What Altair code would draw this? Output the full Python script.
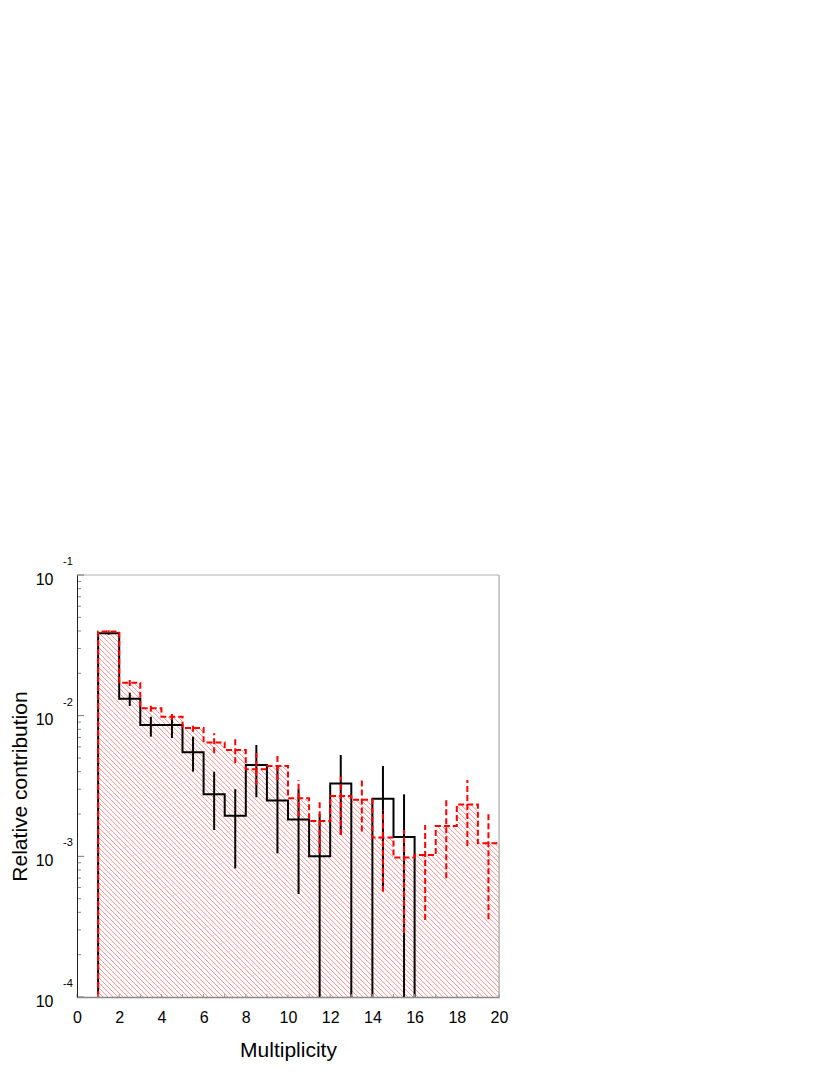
import altair as alt
import numpy as np
import pandas as pd

# ---------------- data ----------------
red_edges = list(range(1, 21))          # bin edges 1..20 (19 bins)
red_vals = [0.0397, 0.01716, 0.01128, 0.00983, 0.00818, 0.00645, 0.0057, 0.00416,
            0.00439, 0.00259, 0.00178, 0.00269, 0.00252, 0.00136, 0.00098, 0.00102,
            0.00164, 0.00234, 0.00124]
red_lo = [0.0389, 0.01625, 0.01067, 0.00931, 0.00769, 0.0054, 0.00458, 0.00321,
          0.00349, 0.00191, 0.00105, 0.00142, 0.0015, 0.00056, 0.000285, 0.000353,
          0.000698, 0.001185, 0.000357]
red_hi = [0.0405, 0.01814, 0.0119, 0.01044, 0.00868, 0.0075, 0.00679, 0.00543,
          0.0054, 0.00349, 0.00245, 0.00368, 0.00353, 0.00214, 0.00154, 0.00167,
          0.00259, 0.00349, 0.00208]

black_edges = list(range(1, 17))        # bin edges 1..16 (15 bins)
black_vals = [0.0385, 0.0132, 0.00858, 0.00858, 0.00549, 0.00276, 0.00194, 0.00446,
              0.00249, 0.00183, 0.0010, 0.0033, 0.0, 0.00257, 0.00137]
black_lo = [0.0376, 0.01171, 0.00709, 0.00694, 0.0040, 0.00154, 0.00082, 0.00263,
            0.00105, 0.00054, 0.0, 0.00142, None, 0.00058, 0.0]
black_hi = [0.0394, 0.01456, 0.00983, 0.00983, 0.00709, 0.0040, 0.0030, 0.00619,
            0.00434, 0.0030, 0.0020, 0.00525, None, 0.00439, 0.00276]

x_ticks = list(range(0, 21, 2))
x_minor = list(range(0, 21))
y_major = [1e-4, 1e-3, 1e-2, 1e-1]
y_minor = [m * 10.0 ** k for k in (-4, -3, -2) for m in range(2, 10)]
y_exponents = ["-1", "-2", "-3", "-4"]

Y_FLOOR, Y_TOP = 1e-4, 0.1
X_MIN, X_MAX = 0, 20
W = H = 422
FONT = "Liberation Sans"

# ---------------- tables ----------------
def floor(v):
    return v if (v is not None and v > Y_FLOOR) else Y_FLOOR

red_step = pd.DataFrame({
    "x": [red_edges[0]] + red_edges,
    "y": [Y_FLOOR] + red_vals + [red_vals[-1]],
})
red_step["i"] = range(len(red_step))

red_mask = pd.DataFrame({"x": red_edges[:-1], "x2": red_edges[1:], "y": red_vals, "yt": Y_TOP})

# black histogram split into segments wherever a bin is empty
rows = []
seg = 0
open_seg = False
for k, v in enumerate(black_vals):
    lo_e = black_edges[k]
    if v <= 0:
        if open_seg:
            rows.append((seg, lo_e, Y_FLOOR))
            seg += 1
            open_seg = False
        continue
    if not open_seg:
        rows.append((seg, lo_e, Y_FLOOR))
        open_seg = True
    rows.append((seg, lo_e, v))
if open_seg:
    rows.append((seg, black_edges[-1], Y_FLOOR))
black_step = pd.DataFrame(rows, columns=["seg", "x", "y"])
black_step["i"] = range(len(black_step))

red_err = pd.DataFrame({"x": [e + 0.5 for e in red_edges[:-1]], "lo": red_lo, "hi": red_hi})
black_err = pd.DataFrame({
    "x": [e + 0.5 for e in black_edges[:-1]],
    "lo": [floor(v) if v is not None else None for v in black_lo],
    "hi": black_hi,
}).dropna()

# hatch pattern lines (45 deg in pixel space): from (a, top) to (a+20, floor)
hatch_a = np.arange(-19.0, 20.0, 0.237)
hatch = pd.DataFrame({"a": hatch_a, "a2": hatch_a + 20.0, "yt": Y_TOP, "yb": Y_FLOOR})

frame = pd.DataFrame({"x": [X_MIN], "x1": [red_edges[0]], "x2": [X_MAX],
                      "yb": [Y_FLOOR], "yt": [Y_TOP]})
expo = pd.DataFrame({"y": y_major[::-1], "label": y_exponents})

xs = alt.Scale(domain=[X_MIN, X_MAX], nice=False, zero=False)
ys = alt.Scale(type="log", domain=[Y_FLOOR, Y_TOP], nice=False, clamp=True)

# ---------------- layers ----------------
hatch_layer = alt.Chart(hatch).mark_rule(clip=True, color="#ff3333", strokeWidth=1, opacity=0.55).encode(
    x=alt.X("a:Q", scale=xs, axis=None), x2="a2:Q",
    y=alt.Y("yt:Q", scale=ys, axis=None), y2="yb:Q")

mask_left = alt.Chart(frame).mark_rect(color="white").encode(
    x=alt.X("x:Q", scale=xs, axis=None), x2="x1:Q",
    y=alt.Y("yb:Q", scale=ys, axis=None), y2="yt:Q")

mask_top = alt.Chart(red_mask).mark_rect(color="white", stroke="white", strokeWidth=1).encode(
    x=alt.X("x:Q", scale=xs, axis=None), x2="x2:Q",
    y=alt.Y("y:Q", scale=ys, axis=None), y2="yt:Q")

black_line = alt.Chart(black_step).mark_line(color="black", strokeWidth=2, interpolate="step-after").encode(
    x=alt.X("x:Q", scale=xs, axis=None),
    y=alt.Y("y:Q", scale=ys, axis=None), detail="seg:N", order="i:Q")

black_bars = alt.Chart(black_err).mark_rule(color="black", strokeWidth=2).encode(
    x=alt.X("x:Q", scale=xs, axis=None),
    y=alt.Y("lo:Q", scale=ys, axis=None), y2="hi:Q")

red_line = alt.Chart(red_step).mark_line(color="#ff0000", strokeWidth=2, strokeDash=[6, 3],
                                         interpolate="step-after").encode(
    x=alt.X("x:Q", scale=xs, axis=None),
    y=alt.Y("y:Q", scale=ys, axis=None), order="i:Q")

red_bars = alt.Chart(red_err).mark_rule(color="#ff0000", strokeWidth=2, strokeDash=[6, 3]).encode(
    x=alt.X("x:Q", scale=xs, axis=None),
    y=alt.Y("lo:Q", scale=ys, axis=None), y2="hi:Q")

border_top = alt.Chart(frame).mark_rule(color="#b0b0b0", strokeWidth=1).encode(
    x=alt.X("x:Q", scale=xs, axis=None), x2="x2:Q",
    y=alt.Y("yt:Q", scale=ys, axis=None))
border_right = alt.Chart(frame).mark_rule(color="#a0a0a0", strokeWidth=1).encode(
    x=alt.X("x2:Q", scale=xs, axis=None),
    y=alt.Y("yb:Q", scale=ys, axis=None), y2="yt:Q")

# inward tick marks drawn as short rules
ytick_major = alt.Chart(pd.DataFrame({"y": y_major})).mark_rule(color="#777777", strokeWidth=1).encode(
    x=alt.value(0), x2=alt.value(7), y=alt.Y("y:Q", scale=ys, axis=None))
ytick_minor = alt.Chart(pd.DataFrame({"y": y_minor})).mark_rule(color="#888888", strokeWidth=1).encode(
    x=alt.value(0), x2=alt.value(4), y=alt.Y("y:Q", scale=ys, axis=None))
xtick = alt.Chart(pd.DataFrame({"x": x_minor})).mark_rule(color="#999999", strokeWidth=1).encode(
    x=alt.X("x:Q", scale=xs, axis=None), y=alt.value(H), y2=alt.value(H - 3))

expo_layer = alt.Chart(expo).mark_text(align="left", baseline="middle", fontSize=11, dy=-13,
                                       font=FONT, color="black").encode(
    x=alt.value(-14),
    y=alt.Y("y:Q", scale=ys, axis=None), text="label:N")

# main axes (labels, titles)
axis_main = alt.Chart(frame).mark_point(opacity=0).encode(
    x=alt.X("x:Q", scale=xs, axis=alt.Axis(
        orient="bottom", values=x_ticks, ticks=False, format="d", labelFontSize=16,
        labelPadding=12, labelFlush=False, labelColor="black", labelFont=FONT,
        domainColor="#888888", domainWidth=1.5, grid=False, zindex=2,
        title="Multiplicity", titleFont=FONT, titleFontSize=21, titleFontWeight="normal",
        titleColor="black", titleX=211, titleY=53, titleAlign="center", titleBaseline="middle")),
    y=alt.Y("yt:Q", scale=ys, axis=alt.Axis(
        orient="left", values=y_major, ticks=False, labelExpr="'10'", labelFontSize=16,
        labelPadding=24, labelOffset=4, labelBaseline="middle", labelColor="black",
        labelFont=FONT, domainColor="#222222", domainWidth=1, grid=False, zindex=2,
        title="Relative contribution", titleFont=FONT, titleFontSize=21,
        titleFontWeight="normal", titleColor="black", titleX=-57, titleY=211,
        titleAngle=-90, titleAlign="center", titleBaseline="middle")),
)

chart = alt.layer(
    hatch_layer, mask_left, mask_top, black_line, black_bars, red_line, red_bars,
    border_top, border_right, ytick_major, ytick_minor, xtick, expo_layer, axis_main
).resolve_axis(x="independent", y="independent").properties(
    width=W, height=H,
    autosize=alt.AutoSizeParams(type="none"),
    padding={"left": 69, "top": 567, "right": 30, "bottom": 90},
).configure_view(stroke=None).configure(background="white")

chart.save("out.html", embed_options={"renderer": "svg", "actions": False})
